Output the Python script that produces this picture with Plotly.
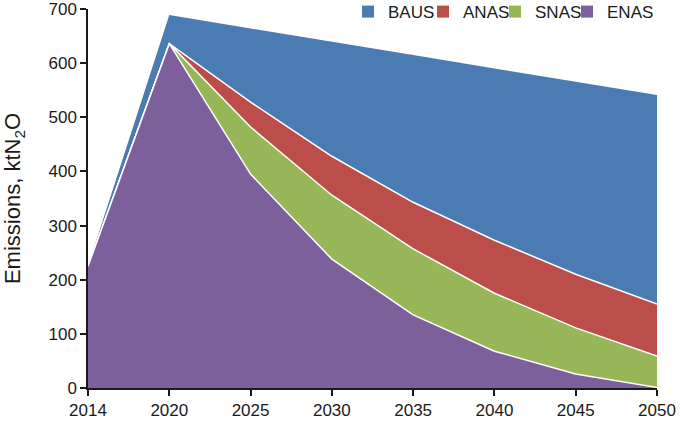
import plotly.graph_objects as go

years = ["2014", "2020", "2025", "2030", "2035", "2040", "2045", "2050"]
baus = [225, 689, 664, 640, 615, 590, 566, 541]
anas = [225, 636, 528, 428, 343, 273, 210, 155]
snas = [225, 636, 482, 356, 257, 175, 111, 59]
enas = [225, 636, 395, 238, 135, 68, 26, 1]

names = ["BAUS", "ANAS", "SNAS", "ENAS"]
series = [baus, anas, snas, enas]
colors = ["#4A7BB3", "#BB4E4B", "#97B657", "#7C5F9B"]
legend_widths = [30, 27, 27, 60]

x = list(range(len(years)))
fig = go.Figure()
for i, (n, s, c) in enumerate(zip(names, series, colors)):
    fig.add_trace(go.Scatter(
        x=x, y=s, fill="tozeroy", fillcolor=c, mode="lines",
        line=dict(color=c if i == 0 else "white", width=0 if i == 0 else 1.5),
        showlegend=False, hoverinfo="skip"))
for n, c, lw in zip(names, colors, legend_widths):
    fig.add_trace(go.Scatter(
        x=[None], y=[None], mode="markers", name=n, legendwidth=lw,
        marker=dict(symbol="square", size=8, color=c)))

font = "Liberation Sans, Arial, sans-serif"
fig.update_layout(
    width=685, height=423,
    margin=dict(l=88, r=28, t=9, b=35, autoexpand=False),
    paper_bgcolor="white", plot_bgcolor="white",
    font=dict(family=font, size=17, color="#1a1a1a"),
    legend=dict(orientation="h", x=0.457, xanchor="left", y=0.992, yanchor="middle",
                font=dict(size=17), itemsizing="constant", itemwidth=30,
                tracegroupgap=0, bgcolor="rgba(0,0,0,0)"),
    xaxis=dict(range=[0, 7], tickvals=x, ticktext=years, showgrid=False,
               zeroline=False, showline=True, linecolor="#1a1a1a", linewidth=1.5,
               ticks="outside", ticklen=6, tickcolor="#1a1a1a", tickwidth=1.5,
               automargin=False, ticklabeloverflow="allow"),
    yaxis=dict(range=[0, 700], dtick=100, showgrid=False, zeroline=False,
               showline=True, linecolor="#1a1a1a", linewidth=1.5,
               ticks="outside", ticklen=6, tickcolor="#1a1a1a", tickwidth=1.5,
               automargin=False, ticklabeloverflow="allow",
               title=dict(text="Emissions, ktN<sub>2</sub>O", font=dict(size=22), standoff=24)),
)
fig.write_html("out.html", config={"displayModeBar": False},
               post_script="document.body.style.margin='0';document.body.style.padding='0';")
